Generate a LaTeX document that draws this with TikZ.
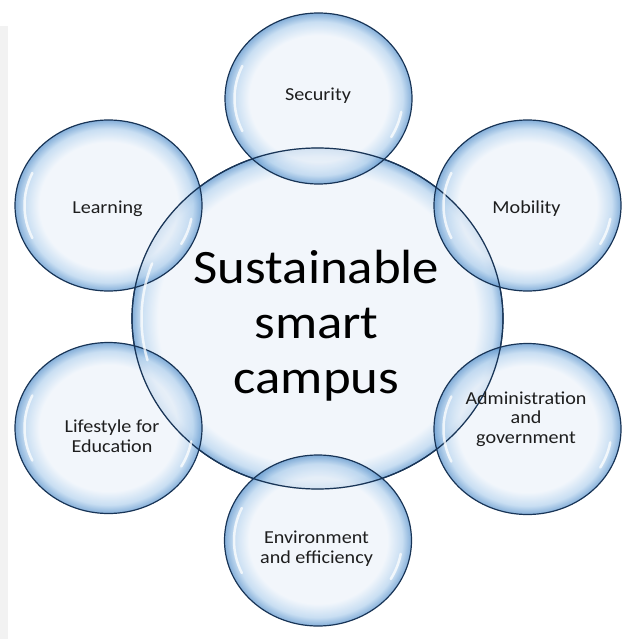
\documentclass[tikz,border=0pt]{standalone}
\usepackage{fontspec}
\setmainfont{Carlito}
\newfontfamily\bubfont[FakeStretch=1.1]{Carlito}
\usetikzlibrary{shapes.geometric}

\definecolor{bubin}{RGB}{237,243,250}
\definecolor{bubmid}{RGB}{182,211,238}
\definecolor{bubrim}{RGB}{92,148,204}
\definecolor{bubline}{RGB}{24,52,86}
\definecolor{lbltext}{RGB}{30,30,30}
\definecolor{stripgray}{RGB}{242,242,242}

\pgfdeclareradialshading{bubble}{\pgfpoint{0bp}{0bp}}{color(0bp)=(bubin); color(18.5bp)=(bubin); color(22.5bp)=(bubmid); color(25bp)=(bubrim); color(50bp)=(bubrim)}
\pgfdeclareradialshading{bigbubble}{\pgfpoint{0bp}{0bp}}{color(0bp)=(bubin); color(21.5bp)=(bubin); color(23.8bp)=(bubmid); color(25bp)=(bubrim); color(50bp)=(bubrim)}

\tikzset{
  bubble/.style={ellipse, inner sep=0pt, minimum width=187pt, minimum height=171pt,
    shade, shading=bubble, fill opacity=0.75, draw=bubline, line width=1.2pt},
  bigbubble/.style={bubble, shading=bigbubble, minimum width=371pt, minimum height=341pt},
  shine/.style={white, line width=2.5pt, opacity=.75, line cap=round},
  lbl/.style={font=\bubfont\fontsize{18.3}{19.5}\selectfont, text=lbltext, align=center, anchor=base},
}

\begin{document}
\begin{tikzpicture}[x=1pt,y=-1pt]

    \useasboundingbox (0,0) rectangle (628,639);
    \fill[stripgray] (0,26) rectangle (8,639);

    %% the big one first, the six small ones round it
    \node[bigbubble] (campus) at (317.5,318.5) {};
    \node[bubble] (security) at (318.5,98.5) {};
    \node[bubble] (learning) at (108.5,205.5) {};
    \node[bubble] (mobility) at (527.5,205.5) {};
    \node[bubble] (lifestyle) at (108.5,428) {};
    \node[bubble] (admin) at (527.5,429) {};
    \node[bubble] (environment) at (318,540.5) {};
    \draw[bubline, line width=1.2pt] (campus.center) ellipse [x radius=185.5, y radius=170.5];

    \foreach \n in {security,learning,mobility,lifestyle,admin,environment}{
    \draw[shine] ([shift={(-155:84 and 77)}]\n.center) arc[start angle=-155, end angle=-205, x radius=84, y radius=77];
    \draw[shine] ([shift={(-330:84 and 77)}]\n.center) arc[start angle=-330, end angle=-350, x radius=84, y radius=77];
    }
    \draw[shine] ([shift={(-160:176 and 161)}]campus.center) arc[start angle=-160, end angle=-195, x radius=176, y radius=161];

    \node[font=\bubfont\fontsize{48}{55}\selectfont, align=center, anchor=base] (campustxt) at (316.5,393) {Sustainable\\smart\\campus};
    \node[lbl] (securitytxt) at (318,100.5) {Security};
    \node[lbl] (learningtxt) at (107.5,213) {Learning};
    \node[lbl] (mobilitytxt) at (526.5,213) {Mobility};
    \node[lbl] (lifestyletxt) at (112,452) {Lifestyle for\\Education};
    \node[lbl] (admintxt) at (526,443) {Administration\\and\\government};
    \node[lbl] (environmenttxt) at (316.5,563) {Environment\\and efficiency};
\end{tikzpicture}
\end{document}
